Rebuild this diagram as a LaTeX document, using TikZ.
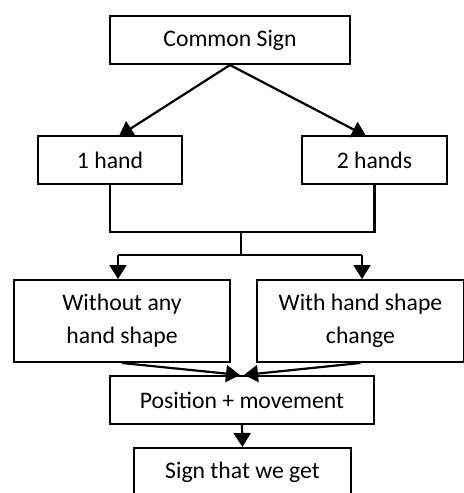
\documentclass[tikz,border=0pt]{standalone}
\usepackage{fontspec}
\setmainfont{Carlito}
\usetikzlibrary{arrows.meta}
\begin{document}
\begin{tikzpicture}[x=0.5pt,y=-0.5pt,
  box/.style={draw, line width=1pt, align=center, inner sep=0pt,
    font=\fontsize{11.85}{16.5}\selectfont},
  link/.style={line width=1.1pt},
  arr/.style={link, -{Triangle[length=7pt,width=8.5pt]}}]
\useasboundingbox (0,0) rectangle (464,493);
\clip (0,0) rectangle (464,493);
% boxes
\node[box, minimum width=120pt, minimum height=24pt] (cs) at (230,40) {Common Sign};
\node[box, minimum width=72pt, minimum height=24pt] (h1) at (110,160) {1 hand};
\node[box, minimum width=72.5pt, minimum height=24pt] (h2) at (374.5,160) {2 hands};
\node[box, minimum width=108pt, minimum height=41pt] (wo) at (122,321) {Without any\\hand shape};
\node[box, minimum width=103.5pt, minimum height=41pt] (wi) at (360.5,321) {With hand shape\\change};
\node[box, minimum width=132pt, minimum height=24pt] (pm) at (242,400) {Position + movement};
\node[box, minimum width=108.5pt, minimum height=24pt] (sg) at (242.5,472) {Sign that we get};
% branch points
\coordinate (t1) at (119,136);
\coordinate (t2) at (366,136);
\coordinate (jn) at (241,232);
\coordinate (sp) at (241,255);
\coordinate (sl) at (118,255);
\coordinate (sr) at (362,255);
% connectors
\draw[arr] (cs.south) -- (t1);
\draw[arr] (cs.south) -- (t2);
\draw[link] (h1.south) |- (jn) -| (h2.south);
\draw[link] (jn) -- (sp);
\draw[link] (sl) -- (sr);
\draw[arr] (sl) -- (sl |- wo.north);
\draw[arr] (sr) -- (sr |- wi.north);
\draw[arr] (wo.south) -- ([xshift=-1pt]pm.north);
\draw[arr] (wi.south) -- ([xshift=1pt]pm.north);
\draw[arr] (pm.south) -- (sg.north);
\end{tikzpicture}
\end{document}
